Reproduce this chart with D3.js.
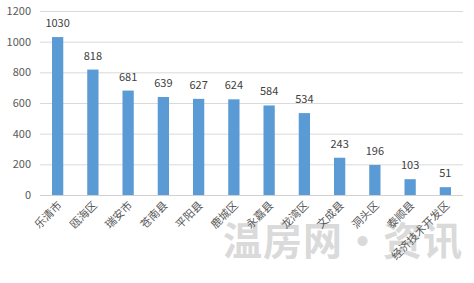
<!DOCTYPE html>
<html><head><meta charset="utf-8">
<script src="https://cdn.jsdelivr.net/npm/d3@7"></script>
<style>body{margin:0;background:#fff}svg{display:block}</style>
</head><body>
<svg id="c" width="474" height="283"></svg>
<script>
const categories = ["乐清市","瓯海区","瑞安市","苍南县","平阳县","鹿城区","永嘉县","龙湾区","文成县","洞头区","泰顺县","经济技术开发区"];
const values = [1030,818,681,639,627,624,584,534,243,196,103,51];
const yTicks = [0,200,400,600,800,1000,1200];

const svg = d3.select("#c");
const font = "'Microsoft YaHei','Noto Sans CJK SC',sans-serif";
const x = d3.scaleBand().domain(categories).range([40,463]).paddingInner(0.68).paddingOuter(0.34);
const y = d3.scaleLinear().domain([0,1200]).range([195,11]);

// watermark
svg.append("text").attr("x",223).attr("y",255).attr("font-family",font)
  .attr("font-size",39).attr("font-weight","bold").attr("fill","#dadada")
  .attr("letter-spacing",1).text("温房网·资讯");

// grid
svg.append("g").selectAll("line").data(yTicks).join("line")
  .attr("x1",40).attr("x2",463).attr("y1",d=>y(d)+0.5).attr("y2",d=>y(d)+0.5)
  .attr("stroke",d=>d===0?"#d0d0d0":"#d9d9d9").attr("stroke-width",1);

// y labels
svg.append("g").selectAll("text").data(yTicks).join("text")
  .attr("x",31).attr("y",d=>y(d)+4).attr("text-anchor","end")
  .attr("font-family",font).attr("font-size",11).attr("fill","#595959").text(d=>d);

// bars
svg.append("g").selectAll("rect").data(values).join("rect")
  .attr("x",(d,i)=>x(categories[i])).attr("width",x.bandwidth())
  .attr("y",d=>y(d)).attr("height",d=>y(0)-y(d)).attr("fill","#5b9bd5");

// value labels
svg.append("g").selectAll("text").data(values).join("text")
  .attr("x",(d,i)=>x(categories[i])+x.bandwidth()/2).attr("y",d=>y(d)-10)
  .attr("text-anchor","middle").attr("font-family",font).attr("font-size",11)
  .attr("fill","#404040").text(d=>d);

// x labels
svg.append("g").selectAll("text").data(categories).join("text")
  .attr("transform",d=>`translate(${x(d)+x.bandwidth()/2+5},${206}) rotate(-45)`)
  .attr("text-anchor","end").attr("font-family",font).attr("font-size",11)
  .attr("fill","#595959").text(d=>d);
</script>
</body></html>
